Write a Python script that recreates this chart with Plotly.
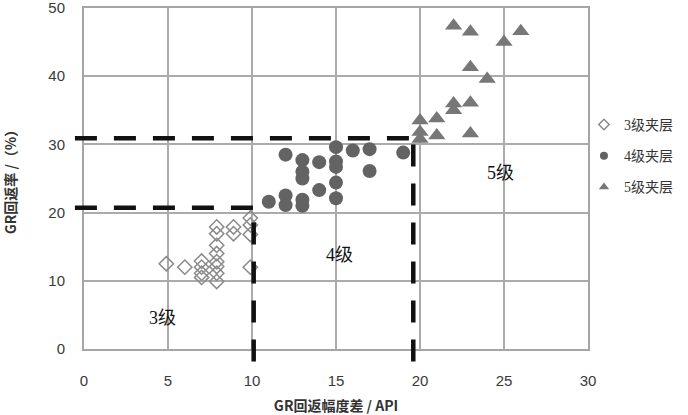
import plotly.graph_objects as go

# ---- data ----
lvl3_x = [4.9, 6.0, 7.0, 7.0, 7.0, 7.0, 7.9, 7.9, 7.9, 7.9, 7.9, 7.9, 7.9, 7.9, 8.9, 8.9, 9.9, 9.9, 9.9, 9.9]
lvl3_y = [12.5, 12.0, 12.9, 12.0, 11.1, 10.5, 17.9, 16.9, 15.2, 14.0, 12.8, 12.1, 11.1, 9.9, 17.9, 16.9, 19.2, 18.2, 16.8, 12.0]

lvl4_x = [11.0, 12.0, 12.0, 12.0, 13.0, 13.0, 13.0, 13.0, 13.0, 14.0, 14.0, 15.0, 15.0, 15.0, 15.0, 15.0, 16.0, 17.0, 17.0, 19.0]
lvl4_y = [21.6, 22.5, 21.1, 28.5, 27.7, 26.0, 25.0, 21.9, 21.0, 27.4, 23.3, 29.6, 27.5, 26.7, 24.4, 22.1, 29.1, 29.3, 26.1, 28.8]

lvl5_x = [22.0, 23.0, 26.0, 25.0, 23.0, 24.0, 22.0, 22.0, 23.0, 20.0, 21.0, 21.0, 23.0, 20.0, 20.0]
lvl5_y = [47.4, 46.5, 46.6, 45.0, 41.3, 39.6, 36.0, 35.0, 36.1, 33.5, 33.8, 31.3, 31.6, 31.8, 30.8]

series_names = ["3级夹层", "4级夹层", "5级夹层"]
zone_labels = ["3级", "4级", "5级"]
zone_label_x = [4.7, 15.2, 24.8]
zone_label_y = [4.5, 13.8, 25.8]

# thresholds: (x threshold, y threshold)
thr_x = [10.1, 19.6]
thr_y = [20.7, 30.9]

x_range = [0, 30]
y_range = [0, 50]
x_ticks = [0, 5, 10, 15, 20, 25, 30]
y_ticks = [0, 10, 20, 30, 40, 50]

serif = "Liberation Serif, Noto Sans CJK SC, serif"

fig = go.Figure()

styles = [
    dict(symbol="diamond-open", size=11, color="#8a8a8a", line=dict(width=1.5, color="#8a8a8a")),
    dict(symbol="circle", size=14, color="#636363"),
    dict(symbol="triangle-up", size=15, color="#777777"),
]
xs = [lvl3_x, lvl4_x, lvl5_x]
ys = [lvl3_y, lvl4_y, lvl5_y]
for i in range(3):
    fig.add_trace(go.Scatter(x=xs[i], y=ys[i], mode="markers", marker=styles[i],
                             showlegend=False, cliponaxis=False, hoverinfo="x+y"))

legend_styles = [
    dict(symbol="diamond-open", size=8, color="#8a8a8a", line=dict(width=1.5, color="#8a8a8a")),
    dict(symbol="circle", size=8, color="#636363"),
    dict(symbol="triangle-up", size=9, color="#777777"),
]
for i in range(3):
    fig.add_trace(go.Scatter(x=[None], y=[None], mode="markers", marker=legend_styles[i],
                             name=series_names[i], legendgroup=series_names[i], showlegend=True))

dash = dict(color="#111111", width=4.5, dash="22px,17px")
xspan = x_range[1] - x_range[0]
yspan = y_range[1] - y_range[0]
for tx, ty in zip(thr_x, thr_y):
    # horizontal
    fig.add_shape(type="line", xref="x domain", yref="y",
                  x0=-0.018, x1=(tx - x_range[0]) / xspan, y0=ty, y1=ty, line=dash)
    # vertical
    fig.add_shape(type="line", xref="x", yref="y domain",
                  x0=tx, x1=tx, y0=-0.037, y1=(ty - y_range[0]) / yspan, line=dash)

for t, ax_, ay_ in zip(zone_labels, zone_label_x, zone_label_y):
    fig.add_annotation(x=ax_, y=ay_, text=t, showarrow=False,
                       font=dict(family=serif, size=18, color="#111111"))

axis_common = dict(
    showgrid=True, gridcolor="#ababab", gridwidth=1.5,
    showline=True, linecolor="#a5a5a5", linewidth=2, mirror=True,
    ticks="outside", tickcolor="rgba(0,0,0,0)",
    tickfont=dict(family="Liberation Sans, Arial, sans-serif", size=15, color="#3a3a3a"),
    zeroline=False, automargin=False, ticklabeloverflow="allow",
)
fig.update_xaxes(range=x_range, tickvals=x_ticks, ticklen=17, **axis_common,
                 title=dict(text="<b>GR回返幅度差 / API</b>", standoff=17,
                            font=dict(family="Noto Sans CJK SC, sans-serif", size=14, color="#333333")))
fig.update_yaxes(range=y_range, tickvals=y_ticks, ticklen=14, **axis_common,
                 title=dict(text="<b>GR回返率 /（%）</b>", standoff=33,
                            font=dict(family="Noto Sans CJK SC, sans-serif", size=14, color="#333333")))

fig.update_layout(
    width=688, height=415,
    margin=dict(l=84, r=100, t=8, b=66),
    paper_bgcolor="white", plot_bgcolor="white",
    legend=dict(x=0.992, y=0.704, xanchor="left", yanchor="top",
                font=dict(family=serif, size=14, color="#333333"),
                traceorder="grouped", tracegroupgap=10, itemwidth=30,
                bgcolor="rgba(0,0,0,0)"),
)

fig.write_html("out.html", config={"displayModeBar": False},
               post_script="document.body.style.margin='0px';")
